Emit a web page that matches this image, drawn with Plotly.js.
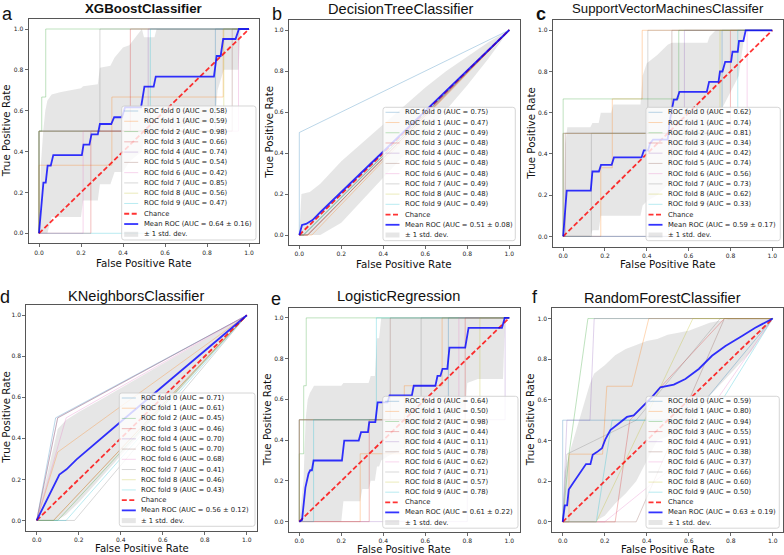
<!DOCTYPE html>
<html><head><meta charset="utf-8">
<script src="https://cdn.plot.ly/plotly-3.0.1.min.js"></script>
<style>html,body{margin:0;padding:0;background:#fff}#chart{width:784px;height:555px}</style>
</head><body><div id="chart"></div>
<script>
// ---------------- DATA ----------------
const letters = ['a','b','c','d','e','f'];
const titles = ['XGBoostClassifier','DecisionTreeClassifier','SupportVectorMachinesClassifer','KNeighborsClassifier','LogisticRegression','RandomForestClassifier'];
const chanceFpr = [0, 1];
const chanceTpr = [0, 1];
const meanAucs = [0.64, 0.51, 0.59, 0.56, 0.61, 0.63];
const stdAucs = [0.16, 0.08, 0.17, 0.12, 0.22, 0.19];

// a: XGBoost
const aucA = [0.58,0.59,0.98,0.66,0.74,0.54,0.42,0.85,0.56,0.47];
const foldFprA = [[0,0,0.84,0.84,1],[0,0,0.347,0.347,0.877,0.877,1],[0,0,0.013,0.013,0.032,0.032,1],[0,0.247,0.247,0.435,0.435,1],[0,0,0.52,0.52,1],[0,0,0.92,0.92,1],[0,0.21,0.21,0.95,0.95,1],[0,0,0.29,0.29,1],[0,0,0.88,0.88,1],[0,0.53,0.53,1]];
const foldTprA = [[0,0.5,0.5,1,1],[0,0.333,0.333,0.667,0.667,1,1],[0,0.5,0.5,0.667,0.667,1,1],[0,0,0.5,0.5,1,1],[0,0.5,0.5,1,1],[0,0.5,0.5,1,1],[0,0,0.5,0.5,1,1],[0,0.5,0.5,1,1],[0,0.5,0.5,1,1],[0,0,1,1]];
const meanFprA = [0,0.018,0.021,0.032,0.041,0.056,0.068,0.204,0.212,0.24,0.25,0.28,0.29,0.344,0.358,0.395,0.41,0.486,0.502,0.546,0.556,0.833,0.846,0.865,0.877,0.936,0.952,1];
const meanTprA = [0,0.204,0.248,0.248,0.331,0.331,0.383,0.383,0.434,0.434,0.484,0.484,0.535,0.535,0.568,0.568,0.617,0.617,0.718,0.718,0.767,0.767,0.868,0.868,0.951,0.951,1,1];
const bandFprA = [0,0.01,0.02,0.03,0.04,0.06,0.1,0.15,0.2,0.21,0.25,0.28,0.29,0.34,0.36,0.4,0.43,0.49,0.5,0.55,0.56,0.84,0.85,0.88,0.95,0.96,1];
const upperA = [0,0.35,0.5,0.6,0.65,0.68,0.69,0.7,0.71,0.72,0.725,0.73,0.81,0.82,0.86,0.91,0.92,1,0.96,0.96,1,1,1,1,1,1,1];
const lowerA = [0,0,0,0,0,0.08,0.08,0.08,0.08,0.16,0.16,0.16,0.24,0.24,0.3,0.3,0.35,0.4,0.47,0.47,0.5,0.55,0.7,0.8,0.8,1,1];

// b: DecisionTree
const aucB = [0.75,0.47,0.49,0.48,0.48,0.48,0.48,0.49,0.48,0.49];
const foldFprB = [[0,0,1],[0,0.06,1],[0,0.02,1],[0,0.04,1],[0,0.04,1],[0,0.04,1],[0,0.04,1],[0,0.02,1],[0,0.04,1],[0,0.02,1]];
const foldTprB = [[0,0.5,1],[0,0,1],[0,0,1],[0,0,1],[0,0,1],[0,0,1],[0,0,1],[0,0,1],[0,0,1],[0,0,1]];
const meanFprB = [0,0.013,0.032,0.063,0.1,0.2,0.4,0.6,0.8,1];
const meanTprB = [0,0.049,0.054,0.073,0.111,0.21,0.408,0.605,0.8,1];
const bandFprB = [0,0.01,0.05,0.1,0.2,0.3,0.4,0.5,0.6,0.7,0.8,0.9,1];
const upperB = [0,0.2,0.21,0.25,0.36,0.45,0.54,0.63,0.72,0.8,0.87,0.94,1];
const lowerB = [0,0,0,0,0.06,0.17,0.28,0.39,0.49,0.61,0.73,0.86,1];

// c: SVM
const aucC = [0.62,0.74,0.81,0.34,0.42,0.74,0.56,0.73,0.62,0.33];
const foldFprC = [[0,0,0.76,0.76,1],[0,0.18,0.18,0.235,0.235,0.378,0.378,1],[0,0,0.553,0.553,1],[0,0.52,0.52,0.8,0.8,1],[0,0.58,0.58,1],[0,0.01,0.01,0.52,0.52,1],[0,0,0.88,0.88,1],[0,0.135,0.135,0.405,0.405,1],[0,0,0.75,0.75,1],[0,0.505,0.505,0.835,0.835,1]];
const foldTprC = [[0,0.5,0.5,1,1],[0,0,0.333,0.333,0.667,0.667,1,1],[0,0.667,0.667,1,1],[0,0,0.5,0.5,1,1],[0,0,1,1],[0,0,0.5,0.5,1,1],[0,0.5,0.5,1,1],[0,0,0.5,0.5,1,1],[0,0.5,0.5,1,1],[0,0,0.5,0.5,1,1]];
const meanFprC = [0,0.017,0.132,0.14,0.171,0.181,0.232,0.243,0.375,0.386,0.406,0.415,0.43,0.5,0.51,0.529,0.544,0.556,0.687,0.698,0.743,0.75,0.762,0.775,0.803,0.81,0.835,0.841,0.862,0.873,1];
const meanTprC = [0,0.222,0.222,0.315,0.315,0.347,0.347,0.383,0.383,0.417,0.417,0.45,0.47,0.47,0.56,0.664,0.664,0.701,0.701,0.75,0.75,0.8,0.8,0.847,0.847,0.896,0.896,0.948,0.948,1,1];
const bandFprC = [0,0.01,0.02,0.13,0.14,0.17,0.18,0.23,0.24,0.37,0.38,0.4,0.45,0.5,0.52,0.55,0.69,0.7,0.73,0.76,0.8,0.84,0.87,1];
const upperC = [0,0.45,0.53,0.53,0.55,0.55,0.6,0.6,0.64,0.64,0.78,0.84,0.88,0.93,0.94,0.94,0.94,0.97,1,1,1,1,1,1];
const lowerC = [0,0,0,0,0.03,0.03,0.1,0.1,0.1,0.1,0.15,0.17,0.2,0.25,0.38,0.4,0.45,0.52,0.55,0.62,0.7,0.78,1,1];

// d: KNeighbors
const aucD = [0.71,0.61,0.45,0.46,0.70,0.70,0.68,0.41,0.46,0.43];
const foldFprD = [[0,0.09,1],[0,0.1,1],[0,0.1,1],[0,0.08,1],[0,0.1,1],[0,0.1,1],[0,0.14,1],[0,0.18,1],[0,0.08,1],[0,0.14,1]];
const foldTprD = [[0,0.5,1],[0,0.333,1],[0,0,1],[0,0,1],[0,0.5,1],[0,0.5,1],[0,0.5,1],[0,0,1],[0,0,1],[0,0,1]];
const meanFprD = [0,0.108,0.142,0.19,0.4,0.6,0.8,1];
const meanTprD = [0,0.224,0.249,0.298,0.481,0.654,0.827,1];
const bandFprD = [0,0.05,0.1,0.14,0.2,0.3,0.4,0.6,0.8,1];
const upperD = [0,0.228,0.446,0.49,0.528,0.586,0.646,0.764,0.882,1];
const lowerD = [0,0,0.002,0.028,0.088,0.2,0.315,0.544,0.772,1];

// e: LogisticRegression
const aucE = [0.64,0.50,0.98,0.44,0.11,0.78,0.62,0.71,0.57,0.78];
const foldFprE = [[0,0,0.71,0.71,1],[0,0.29,0.29,0.5,0.5,0.68,0.68,1],[0,0,0.021,0.021,0.033,0.033,1],[0,0.333,0.333,0.79,0.79,1],[0,0.8,0.8,0.98,0.98,1],[0,0,0.433,0.433,1],[0,0,0.76,0.76,1],[0,0,0.58,0.58,1],[0,0,0.86,0.86,1],[0,0.068,0.068,0.367,0.367,1]];
const foldTprE = [[0,0.5,0.5,1,1],[0,0,0.333,0.333,0.667,0.667,1,1],[0,0.333,0.333,0.667,0.667,1,1],[0,0,0.5,0.5,1,1],[0,0,0.5,0.5,1,1],[0,0.5,0.5,1,1],[0,0.5,0.5,1,1],[0,0.5,0.5,1,1],[0,0.5,0.5,1,1],[0,0,0.5,0.5,1,1]];
const meanFprE = [0,0.013,0.029,0.044,0.052,0.06,0.068,0.203,0.214,0.283,0.294,0.327,0.333,0.362,0.373,0.42,0.43,0.536,0.545,0.648,0.658,0.672,0.682,0.705,0.715,0.79,0.806,0.965,0.978,1];
const meanTprE = [0,0.008,0.167,0.236,0.252,0.252,0.3,0.3,0.398,0.398,0.439,0.439,0.488,0.488,0.585,0.585,0.62,0.62,0.667,0.667,0.715,0.715,0.75,0.75,0.854,0.854,0.951,0.951,1,1];
const bandFprE = [0,0.02,0.03,0.04,0.05,0.07,0.2,0.21,0.29,0.3,0.33,0.34,0.36,0.37,0.38,0.39,0.42,0.5,0.6,0.65,0.7,0.79,0.8,0.85,0.97,0.98,1];
const upperE = [0,0.2,0.5,0.6,0.63,0.667,0.667,0.68,0.68,0.68,0.68,0.715,0.715,0.9,0.9,1,1,1,1,1,1,1,1,1,1,1,1];
const lowerE = [0,0,0,0,0,0,0,0.1,0.1,0.16,0.16,0.2,0.2,0.27,0.27,0.3,0.32,0.36,0.4,0.45,0.5,0.55,0.68,0.7,0.7,1,1];

// f: RandomForest
const aucF = [0.59,0.80,0.94,0.55,0.91,0.38,0.37,0.66,0.60,0.50];
const foldFprF = [[0,0,0.6,1],[0,0.03,0.03,0.19,0.21,0.33,0.41,1],[0,0.03,0.12,1],[0,0.25,0.32,0.77,1],[0,0.02,0.13,0.15,1],[0,0.35,0.77,1],[0,0.2,0.5,1],[0,0.02,0.35,0.75,1],[0,0.16,0.62,1],[0,0.16,0.235,0.7,1]];
const foldTprF = [[0,0.5,0.5,1],[0,0,0.333,0.333,0.667,0.667,1,1],[0,0.333,1,1],[0,0,0.5,1,1],[0,0.5,0.5,1,1],[0,0,1,1],[0,0,0.25,1],[0,0.333,0.5,1,1],[0,0,1,1],[0,0,0.5,0.5,1]];
const meanFprF = [0,0.01,0.021,0.029,0.044,0.084,0.111,0.132,0.143,0.163,0.187,0.203,0.227,0.267,0.306,0.338,0.386,0.425,0.465,0.529,0.584,0.648,0.711,0.775,0.854,0.917,1];
const meanTprF = [0,0.081,0.081,0.159,0.183,0.24,0.284,0.284,0.33,0.343,0.362,0.406,0.451,0.484,0.516,0.524,0.573,0.614,0.662,0.675,0.703,0.752,0.817,0.865,0.914,0.955,1];
const bandFprF = [0,0.01,0.03,0.05,0.08,0.1,0.13,0.15,0.2,0.25,0.3,0.35,0.4,0.45,0.5,0.6,0.7,0.8,0.9,1];
const upperF = [0,0.25,0.33,0.4,0.5,0.57,0.68,0.73,0.77,0.82,0.85,0.87,0.89,0.9,0.92,0.94,0.98,1,1,1];
const lowerF = [0,0,0,0,0,0,0,0,0.03,0.09,0.14,0.2,0.3,0.4,0.42,0.47,0.62,0.73,0.84,1];

const panels = [
  {auc:aucA, foldFpr:foldFprA, foldTpr:foldTprA, meanFpr:meanFprA, meanTpr:meanTprA, bandFpr:bandFprA, upper:upperA, lower:lowerA},
  {auc:aucB, foldFpr:foldFprB, foldTpr:foldTprB, meanFpr:meanFprB, meanTpr:meanTprB, bandFpr:bandFprB, upper:upperB, lower:lowerB},
  {auc:aucC, foldFpr:foldFprC, foldTpr:foldTprC, meanFpr:meanFprC, meanTpr:meanTprC, bandFpr:bandFprC, upper:upperC, lower:lowerC},
  {auc:aucD, foldFpr:foldFprD, foldTpr:foldTprD, meanFpr:meanFprD, meanTpr:meanTprD, bandFpr:bandFprD, upper:upperD, lower:lowerD},
  {auc:aucE, foldFpr:foldFprE, foldTpr:foldTprE, meanFpr:meanFprE, meanTpr:meanTprE, bandFpr:bandFprE, upper:upperE, lower:lowerE},
  {auc:aucF, foldFpr:foldFprF, foldTpr:foldTprF, meanFpr:meanFprF, meanTpr:meanTprF, bandFpr:bandFprF, upper:upperF, lower:lowerF}
];

// ---------------- LAYOUT / STYLE ----------------
const W = 784, H = 555;
const px = v => v / W;
const py = v => 1 - v / H;
const axBox = [[28.5,259.5,18.8,243.5],[288.8,519.8,19.75,245.25],[552.7,782.7,20,246.7],[26.2,257.3,305,530.7],[288.8,519.8,307.7,531.8],[552.2,783.2,308.4,532.0]];
const legBox = [[121.7,256,106,240],[383,515.3,107.3,240.7],[646,780.3,107.3,240.7],[119.3,255,393,526.3],[382.7,518,396.3,528.2],[646,779.3,396.3,528.2]];
const titlePos = [[143.3,8.3],[400.8,8.9],[667.8,8.4],[135.8,295.5],[398.2,295.5],[662.3,298]];
const titleSize = [13.3,14.6,13.2,14.6,14.6,14.6];
const letterPos = [[8,13.7],[277,13.7],[541,13.7],[5,296.7],[276,298.7],[535,296.7]];
const xlabY = [263,263.5,263.5,548.8,549.5,549.6];
const xlabSize = [10.3,10.3,10.3,10.1,10.1,10.1];
const ylabX = [6,268.2,531.5,6,266.5,530];
const foldRGB = ['31,119,180','255,127,14','44,160,44','214,39,40','148,103,189','140,86,75','227,119,194','127,127,127','188,189,34','23,190,207'];
const CHANCE = 'rgba(255,0,0,0.8)', MEAN = 'rgba(0,0,255,0.8)', BAND = 'rgba(128,128,128,0.2)';
const DV = 'DejaVu Sans', AR = 'Liberation Sans, Arial, sans-serif';

const traces = [], annotations = [], shapes = [];
const layout = {
  width: W, height: H, margin: {l:0, r:0, t:0, b:0},
  paper_bgcolor: '#fff', plot_bgcolor: '#fff', showlegend: false,
  font: {family: DV, color: '#222'}
};

function rrPath(L, R, T, B, r) {
  const X = v => px(v).toFixed(5), Y = v => py(v).toFixed(5);
  return 'M' + X(L + r) + ',' + Y(T) + ' L' + X(R - r) + ',' + Y(T) + ' Q' + X(R) + ',' + Y(T) + ' ' + X(R) + ',' + Y(T + r) +
    ' L' + X(R) + ',' + Y(B - r) + ' Q' + X(R) + ',' + Y(B) + ' ' + X(R - r) + ',' + Y(B) +
    ' L' + X(L + r) + ',' + Y(B) + ' Q' + X(L) + ',' + Y(B) + ' ' + X(L) + ',' + Y(B - r) +
    ' L' + X(L) + ',' + Y(T + r) + ' Q' + X(L) + ',' + Y(T) + ' ' + X(L + r) + ',' + Y(T) + ' Z';
}

panels.forEach((p, k) => {
  const sfx = k === 0 ? '' : String(k + 1);
  const xa = 'x' + sfx, ya = 'y' + sfx;
  const [L, R, T, B] = axBox[k];
  const axCommon = {
    range: [-0.05, 1.05], showgrid: false, zeroline: false, showline: true, mirror: true,
    linecolor: '#444', linewidth: 0.9, ticks: 'outside', ticklen: 3, tickwidth: 0.8, tickcolor: '#444',
    tickvals: [0, 0.2, 0.4, 0.6, 0.8, 1.0], tickformat: '.1f',
    tickfont: {family: DV, size: 6, color: '#222'}, fixedrange: true
  };
  layout['xaxis' + sfx] = Object.assign({}, axCommon, {domain: [px(L), px(R)], anchor: ya});
  layout['yaxis' + sfx] = Object.assign({}, axCommon, {domain: [py(B), py(T)], anchor: xa});

  // std band
  traces.push({
    type: 'scatter', mode: 'lines', xaxis: xa, yaxis: ya, hoverinfo: 'skip',
    x: p.bandFpr.concat(p.bandFpr.slice().reverse()),
    y: p.upper.concat(p.lower.slice().reverse()),
    fill: 'toself', fillcolor: BAND, line: {width: 0}
  });
  // folds
  p.foldFpr.forEach((fx, i) => {
    traces.push({
      type: 'scatter', mode: 'lines', xaxis: xa, yaxis: ya, hoverinfo: 'skip',
      x: fx, y: p.foldTpr[i], line: {color: 'rgba(' + foldRGB[i] + ',0.3)', width: 1}
    });
  });
  // chance
  traces.push({
    type: 'scatter', mode: 'lines', xaxis: xa, yaxis: ya, hoverinfo: 'skip',
    x: chanceFpr, y: chanceTpr, line: {color: CHANCE, width: 1.8, dash: '5px,2.5px'}
  });
  // mean
  traces.push({
    type: 'scatter', mode: 'lines', xaxis: xa, yaxis: ya, hoverinfo: 'skip',
    x: p.meanFpr, y: p.meanTpr, line: {color: MEAN, width: 1.8}
  });

  // titles and labels
  annotations.push({xref: 'paper', yref: 'paper', x: px(titlePos[k][0]), y: py(titlePos[k][1]), xanchor: 'center', yanchor: 'middle',
    text: k === 0 ? '<b>' + titles[k] + '</b>' : titles[k], showarrow: false, borderpad: 0,
    font: {family: AR, size: titleSize[k], color: '#111'}});
  annotations.push({xref: 'paper', yref: 'paper', x: px(letterPos[k][0]), y: py(letterPos[k][1]), xanchor: 'center', yanchor: 'middle',
    text: k === 2 ? '<b>' + letters[k] + '</b>' : letters[k], showarrow: false, borderpad: 0,
    font: {family: AR, size: 18, color: '#111'}});
  annotations.push({xref: 'paper', yref: 'paper', x: px((L + R) / 2), y: py(xlabY[k]), xanchor: 'center', yanchor: 'middle',
    text: 'False Positive Rate', showarrow: false, borderpad: 0, font: {family: DV, size: xlabSize[k], color: '#111'}});
  annotations.push({xref: 'paper', yref: 'paper', x: px(ylabX[k]), y: py((T + B) / 2), xanchor: 'center', yanchor: 'middle',
    text: 'True Positive Rate', textangle: -90, showarrow: false, borderpad: 0, font: {family: DV, size: 10.3, color: '#111'}});

  // legend (drawn by hand, matplotlib style)
  const [lL, lR, lT, lB] = legBox[k];
  shapes.push({type: 'path', xref: 'paper', yref: 'paper', layer: 'above', path: rrPath(lL, lR, lT, lB, 2.5),
    fillcolor: 'rgba(255,255,255,0.8)', line: {color: '#cccccc', width: 0.8}});
  const labels = p.auc.map((a, i) => 'ROC fold ' + i + ' (AUC = ' + a.toFixed(2) + ')')
    .concat(['Chance', 'Mean ROC (AUC = ' + meanAucs[k].toFixed(2) + ' \u00b1 ' + stdAucs[k].toFixed(2) + ')', '\u00b1 1 std. dev.']);
  const step = (lB - lT - 10.7) / 12;
  labels.forEach((lab, i) => {
    const yc = lT + 5 + i * step;
    const hx0 = lL + 2.5, hx1 = lL + 16.5;
    if (i < 10) {
      shapes.push({type: 'line', xref: 'paper', yref: 'paper', layer: 'above', x0: px(hx0), x1: px(hx1), y0: py(yc), y1: py(yc),
        line: {color: 'rgba(' + foldRGB[i] + ',0.3)', width: 1}});
    } else if (i === 10) {
      shapes.push({type: 'line', xref: 'paper', yref: 'paper', layer: 'above', x0: px(hx0), x1: px(hx1), y0: py(yc), y1: py(yc),
        line: {color: CHANCE, width: 1.8, dash: '5px,2.5px'}});
    } else if (i === 11) {
      shapes.push({type: 'line', xref: 'paper', yref: 'paper', layer: 'above', x0: px(hx0), x1: px(hx1), y0: py(yc), y1: py(yc),
        line: {color: MEAN, width: 1.8}});
    } else {
      shapes.push({type: 'rect', xref: 'paper', yref: 'paper', layer: 'above', x0: px(hx0), x1: px(hx1), y0: py(yc + 2.5), y1: py(yc - 2.5),
        fillcolor: BAND, line: {width: 0}});
    }
    annotations.push({xref: 'paper', yref: 'paper', x: px(lL + 22), y: py(yc), xanchor: 'left', yanchor: 'middle',
      text: lab, showarrow: false, borderpad: 0, borderwidth: 0, font: {family: DV, size: 6.8, color: '#222'}});
  });
});

layout.annotations = annotations;
layout.shapes = shapes;
Plotly.newPlot('chart', traces, layout, {staticPlot: true, displayModeBar: false});
</script></body></html>
